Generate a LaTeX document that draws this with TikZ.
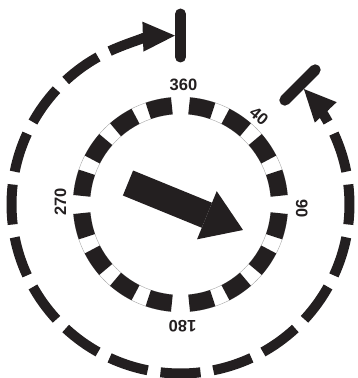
\documentclass[tikz,border=0pt]{standalone}
\usepackage{fontspec}
\setmainfont{Liberation Sans}
\usetikzlibrary{arrows.meta}
\definecolor{ink}{HTML}{231F20}
\begin{document}
\begin{tikzpicture}[
        x=1pt, y=1pt,
        ringseg/.style={draw=ink, line width=17pt},
        ringline/.style={draw=black!35, line width=0.4pt},
        sweep/.style={draw=ink, line width=10pt},
        sweeptip/.style={sweep, -{Triangle[length=32pt, width=30pt, line width=0pt]}},
        tickbar/.style={draw=ink, line width=11pt, line cap=round},
        deg/.style={font=\bfseries\fontsize{16.5}{18}\selectfont, text=ink, inner sep=0pt}
      ]
  \useasboundingbox (-180.5,-173.5) rectangle (176.5,204.5);

  % inner ring, four quadrants
  \foreach \q in {0,90,180,270}{
    \draw[ringline] (85-\q:107.5) arc[start angle=85-\q, end angle=5-\q, radius=107.5];
    \draw[ringline] (85-\q:90.5) arc[start angle=85-\q, end angle=5-\q, radius=90.5];
    \foreach \o in {5,27,49,71}
      \draw[ringseg] (90-\q-\o:99) arc[start angle=90-\q-\o, end angle=76-\q-\o, radius=99];
  }

  \node[deg] (n360) at (3,120) {360};
  \node[deg, rotate=-40] (n40) at (78.5,88) {40};
  \node[deg, rotate=-90] (n90) at (121.2,-3.8) {90};
  \node[deg, rotate=180] (n180) at (2,-121.3) {180};
  \node[deg, rotate=90] (n270) at (-120,2.8) {270};

  % heading arrow
  \coordinate (tail) at (-52.5,21.5);
  \coordinate (head) at (62.5,-25.5);
  \draw[ink, line width=27pt, -{Triangle[length=39pt, width=52pt, line width=0pt]}] (tail) -- (head);

  % outer sweep
  \foreach \b in {72,90,...,324}
    \draw[sweep] (96.8-\b:169) arc[start angle=96.8-\b, end angle=83.2-\b, radius=169];
  \draw[sweeptip] (29.2:169) arc[start angle=29.2, end angle=43.1, radius=169];
  \draw[sweeptip] (114.8:169) arc[start angle=114.8, end angle=91.9, radius=169];

  % stops
  \coordinate (stopin) at (90:147.5);
  \coordinate (stopout) at (90:190.5);
  \coordinate (startin) at (45:147.5);
  \coordinate (startout) at (45:190.5);
  \draw[tickbar] (stopin) -- (stopout);
  \draw[tickbar] (startin) -- (startout);
\end{tikzpicture}
\end{document}
